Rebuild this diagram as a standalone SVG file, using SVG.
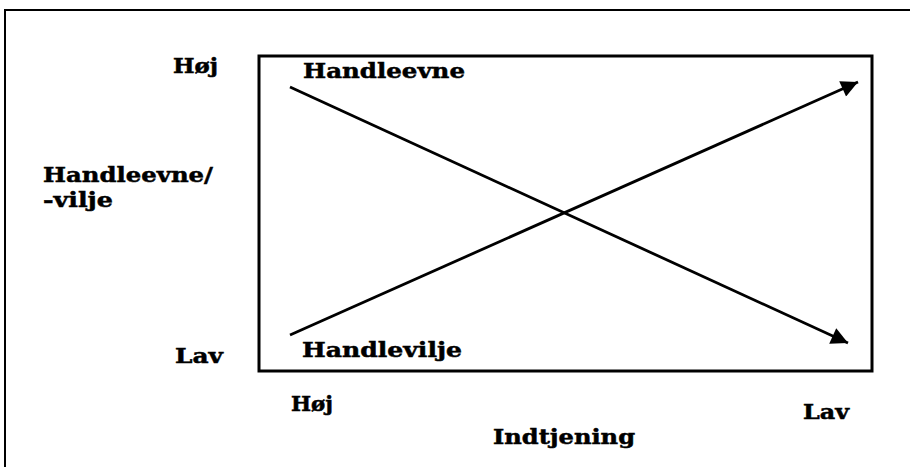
<svg xmlns="http://www.w3.org/2000/svg" width="910" height="467" viewBox="0 0 910 467">
<style>
text{font-family:"DejaVu Serif","Liberation Serif",serif;font-weight:bold;font-size:21px;fill:#000;stroke:#000;stroke-width:0.5}
.frame{fill:none;stroke:#000;stroke-width:2}
.box{fill:none;stroke:#000;stroke-width:3}
.conn{stroke:#000;stroke-width:2.8;fill:none}
</style>
<defs>
<marker id="ah" viewBox="0 0 10 10" refX="10" refY="5" markerWidth="7" markerHeight="6" orient="auto" markerUnits="strokeWidth">
<path d="M0,0 L10,5 L0,10 z" fill="#000"/>
</marker>
</defs>
<rect width="910" height="467" fill="#fff"/>
<g id="frame">
<path class="frame" d="M5,467 V10 H910"/>
</g>
<g id="chart">
<rect class="box" x="259" y="56" width="613" height="315"/>
</g>
<g id="labels">
<text x="173" y="73" textLength="45" lengthAdjust="spacingAndGlyphs">Høj</text>
<text x="175" y="363" textLength="48" lengthAdjust="spacingAndGlyphs">Lav</text>
<text x="43" y="182" textLength="170" lengthAdjust="spacingAndGlyphs">Handleevne/</text>
<text x="43" y="207" textLength="70" lengthAdjust="spacingAndGlyphs">-vilje</text>
<text x="291" y="411" textLength="42" lengthAdjust="spacingAndGlyphs">Høj</text>
<text x="803" y="419" textLength="46" lengthAdjust="spacingAndGlyphs">Lav</text>
<text x="493" y="444" textLength="142" lengthAdjust="spacingAndGlyphs">Indtjening</text>
</g>
<g id="handleevne"><text x="303" y="78" textLength="162" lengthAdjust="spacingAndGlyphs">Handleevne</text></g>
<g id="handlevilje"><text x="302" y="357" textLength="160" lengthAdjust="spacingAndGlyphs">Handlevilje</text></g>
<g id="connectors">
<line class="conn" x1="290" y1="87" x2="848" y2="343" marker-end="url(#ah)"/>
<line class="conn" x1="290" y1="335" x2="858" y2="82" marker-end="url(#ah)"/>
</g>
</svg>
